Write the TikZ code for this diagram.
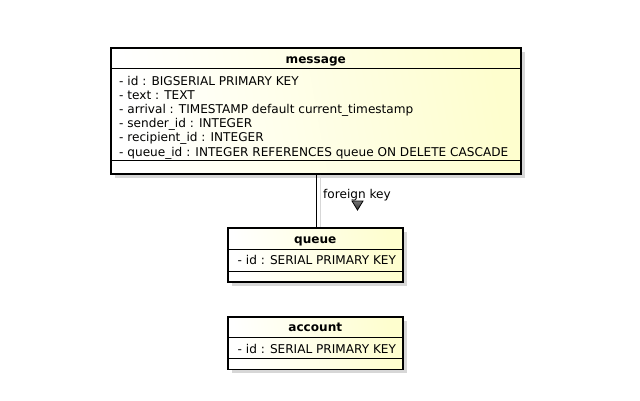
\documentclass[tikz,border=0pt]{standalone}
\usepackage{fontspec}
\setmainfont{DejaVu Sans}
\usetikzlibrary{shadows}
\definecolor{umlfill}{RGB}{254,254,206}
\definecolor{shadowgray}{RGB}{215,215,215}
\tikzset{
  tbl/.style={draw=black, line width=1.6pt, left color=white, right color=umlfill,
    shading angle=100, anchor=north west, inner sep=0pt,
    general shadow={fill=shadowgray, shadow xshift=4pt, shadow yshift=-4pt}},
  sep/.style={draw=black, line width=0.8pt},
  attr/.style={anchor=base west, inner sep=0pt, font=\fontsize{12.1}{14}\selectfont},
  ttl/.style={anchor=base, inner sep=0pt, font=\fontsize{12.1}{14}\selectfont\bfseries},
  lbl/.style={anchor=base west, inner sep=0pt, font=\fontsize{12.1}{14}\selectfont},
}
\begin{document}
\begin{tikzpicture}[x=1pt,y=-1pt]
\useasboundingbox (0,0) rectangle (640,400);
% message
\node[tbl, minimum width=410pt, minimum height=126pt] (message) at (110,47) {};
\draw[sep] (message.west |- 0,68) -- (message.east |- 0,68);
\draw[sep] (message.west |- 0,160) -- (message.east |- 0,160);
\node[ttl] (mt) at (message.center |- 0,63) {message};
\node[attr] (m1) at (119,85) {- id : BIGSERIAL PRIMARY KEY};
\node[attr] (m2) at (119,99.2) {- text : TEXT};
\node[attr] (m3) at (119,113.4) {- arrival : TIMESTAMP default current\_timestamp};
\node[attr] (m4) at (119,127.6) {- sender\_id : INTEGER};
\node[attr] (m5) at (119,141.8) {- recipient\_id : INTEGER};
\node[attr] (m6) at (119,156) {- queue\_id : INTEGER REFERENCES queue ON DELETE CASCADE};
% queue
\node[tbl, minimum width=175pt, minimum height=54pt] (queue) at (227,227) {};
\draw[sep] (queue.west |- 0,249) -- (queue.east |- 0,249);
\draw[sep] (queue.west |- 0,271) -- (queue.east |- 0,271);
\node[ttl] (qt) at (queue.center |- 0,243) {queue};
\node[attr] (q1) at (237.5,264) {- id : SERIAL PRIMARY KEY};
% account
\node[tbl, minimum width=175pt, minimum height=52.5pt] (account) at (227,316) {};
\draw[sep] (account.west |- 0,337.5) -- (account.east |- 0,337.5);
\draw[sep] (account.west |- 0,358.5) -- (account.east |- 0,358.5);
\node[ttl] (at) at (account.center |- 0,331.5) {account};
\node[attr] (a1) at (237.5,353) {- id : SERIAL PRIMARY KEY};
% connector
\coordinate (c1) at (316,0);
\draw[shadowgray, line width=0.8pt] ([xshift=4pt]c1 |- message.south) -- ([xshift=4pt]c1 |- queue.north);
\draw[black, line width=0.8pt] (c1 |- message.south) -- (c1 |- queue.north);
\node[lbl] (fk) at (323,198) {foreign key};
\coordinate (tri) at (357.5,201);
\draw[black, line width=0.8pt, top color=black!55, bottom color=black!80]
  (tri) ++(-5.5,0) -- ++(11,0) -- ++(-5.5,9) -- cycle;
\end{tikzpicture}
\end{document}
